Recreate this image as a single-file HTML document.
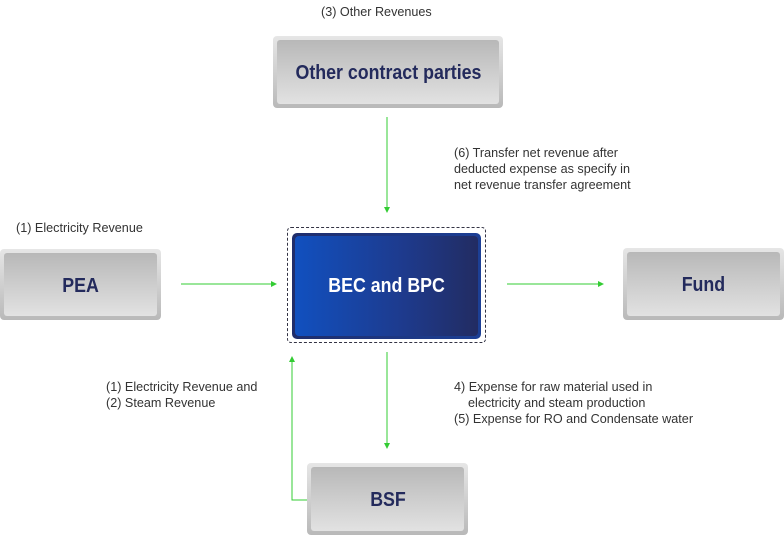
<!DOCTYPE html>
<html><head><style>
body{margin:0;width:784px;height:535px;background:#fff;position:relative;overflow:hidden;font-family:"Liberation Sans",sans-serif;}
.g{position:absolute;box-sizing:border-box;border-radius:4px;background:linear-gradient(#e6e6e6,#b9b9b9);padding:4px;}
.g>div{width:100%;height:100%;box-sizing:border-box;padding-top:3px;border-radius:3px;background:linear-gradient(#b8b8b8,#e2e2e2);display:flex;align-items:center;justify-content:center;color:#232a5c;font-weight:bold;font-size:20px;}
.s{display:inline-block;transform:scaleX(0.89);white-space:nowrap;}
.t{position:absolute;font-size:13px;color:#333;line-height:16px;white-space:nowrap;transform-origin:0 0;transform:scaleX(0.97);}
</style></head><body>
<div class="g" style="left:273px;top:36px;width:230px;height:72px"><div><span class="s">Other contract parties</span></div></div>
<div class="g" style="left:0;top:249px;width:161px;height:71px"><div><span class="s">PEA</span></div></div>
<div class="g" style="left:623px;top:248px;width:161px;height:72px"><div><span class="s">Fund</span></div></div>
<div class="g" style="left:307px;top:463px;width:161px;height:72px"><div><span class="s">BSF</span></div></div>
<div style="position:absolute;left:287px;top:227px;width:199px;height:116px;box-sizing:border-box;border:1px dashed #334;border-radius:4px"></div>
<div style="position:absolute;left:292px;top:233px;width:189px;height:106px;box-sizing:border-box;border-radius:5px;background:linear-gradient(90deg,#1f2d6b,#1c3f95);padding:3px">
<div style="width:100%;height:100%;border-radius:4px;background:linear-gradient(90deg,#1150bf,#1e3a8c 60%,#222c62);display:flex;align-items:center;justify-content:center;color:#fff;font-weight:bold;font-size:20px"><span class="s">BEC and BPC</span></div></div>
<svg width="784" height="535" style="position:absolute;left:0;top:0">
<defs><marker id="a" markerWidth="6" markerHeight="6" refX="5" refY="3" orient="auto"><path d="M0,0L6,3L0,6z" fill="#3c3"/></marker></defs>
<g stroke="#3c3" stroke-width="1" fill="none" marker-end="url(#a)">
<line x1="387" y1="117" x2="387" y2="212"/>
<line x1="181" y1="284" x2="276" y2="284"/>
<line x1="507" y1="284" x2="603" y2="284"/>
<line x1="387" y1="352" x2="387" y2="448"/>
<polyline points="307,500 292,500 292,357"/>
</g></svg>
<div class="t" style="left:321px;top:4px">(3) Other Revenues</div>
<div class="t" style="left:454px;top:145px">(6) Transfer net revenue after<br>deducted expense as specify in<br>net revenue transfer agreement</div>
<div class="t" style="left:16px;top:220px">(1) Electricity Revenue</div>
<div class="t" style="left:106px;top:379px">(1) Electricity Revenue and<br>(2) Steam Revenue</div>
<div class="t" style="left:454px;top:379px">4) Expense for raw material used in<br>&nbsp;&nbsp;&nbsp;&nbsp;electricity and steam production<br>(5) Expense for RO and Condensate water</div>
</body></html>
